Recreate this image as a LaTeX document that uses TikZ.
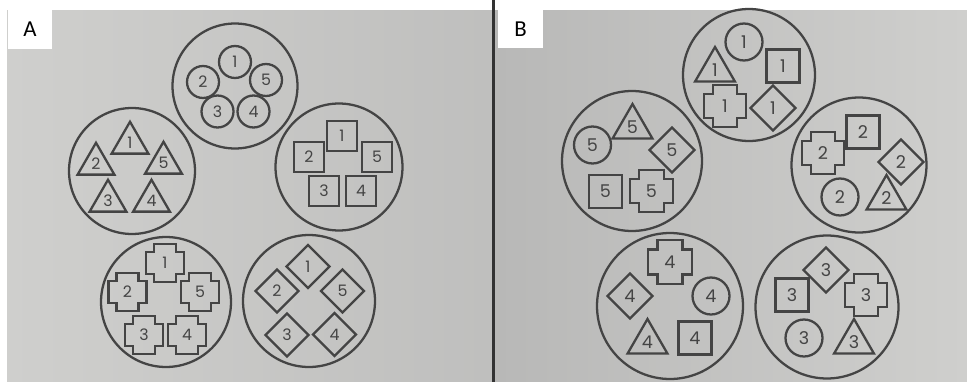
\documentclass[tikz,border=0pt]{standalone}
\usepackage{fontspec}
\usepackage{tikz}
\usetikzlibrary{shapes.geometric}
\newfontfamily\digitfont{Poppins}
\newfontfamily\panelfont{Carlito}
\definecolor{ink}{HTML}{444444}
\definecolor{paper}{HTML}{CFCFCD}
\definecolor{paperdark}{HTML}{B8B8B7}

% stepped cross drawn round a named node
\newcommand{\crossline}[2]{%
  \draw[shp,shift={(#1)},scale=#2] (-11,-19) -- ++(22,0) -- ++(0,8) -- ++(8,0)
    -- ++(0,22) -- ++(-8,0) -- ++(0,8) -- ++(-22,0) -- ++(0,-8) -- ++(-8,0)
    -- ++(0,-22) -- ++(8,0) -- cycle;}

\begin{document}
\begin{tikzpicture}[x=0.02cm,y=-0.02cm,
  shp/.style={draw=ink,line width=1.3pt},
  ring/.style={shp,circle,inner sep=0pt},
  num/.style={inner sep=0pt,text=ink,font=\digitfont\fontsize{9}{9}\selectfont},
  numb/.style={inner sep=0pt,text=ink,font=\digitfont\fontsize{10}{10}\selectfont},
  dotA/.style={num,shp,circle,minimum size=0.64cm},
  triA/.style={num,shp,regular polygon,regular polygon sides=3,minimum size=0.85cm},
  sqA/.style={num,shp,rectangle,minimum size=0.6cm},
  diaA/.style={num,shp,diamond,aspect=1,minimum size=0.88cm},
  dotB/.style={numb,shp,circle,minimum size=0.74cm},
  triB/.style={numb,shp,regular polygon,regular polygon sides=3,minimum size=0.92cm},
  sqB/.style={numb,shp,rectangle,minimum size=0.66cm},
  diaB/.style={numb,shp,diamond,aspect=1,minimum size=0.92cm},
  tag/.style={fill=white,inner sep=0pt,minimum width=0.9cm,minimum height=0.78cm,
              font=\panelfont\fontsize{13}{13}\selectfont}
]
  \useasboundingbox (0,0) rectangle (967,382);
  \fill[white] (0,0) rectangle (967,382);
  \shade[left color=paper,right color=paperdark!70!paper] (7,10) rectangle (492,382);
  \shade[left color=paperdark,right color=paper] (495,10) rectangle (967,382);
  \fill[black!80] (492,0) rectangle (495,382);

  \node[tag] (labA) at (30,29.5) {A};
  \node[tag] (labB) at (520.5,29) {B};

  % panel A
  \node[ring,minimum size=2.5cm]  (ringA1) at (235,86)  {};
  \node[ring,minimum size=2.52cm] (ringA2) at (132,171) {};
  \node[ring,minimum size=2.54cm] (ringA3) at (339,167) {};
  \node[ring,minimum size=2.6cm]  (ringA4) at (166,302) {};
  \node[ring,minimum size=2.64cm] (ringA5) at (309,301) {};

  \node[dotA] (cA1) at (235,62)    {1};
  \node[dotA] (cA2) at (203,82)    {2};
  \node[dotA] (cA5) at (266,80)    {5};
  \node[dotA] (cA3) at (217.5,111.5) {3};
  \node[dotA] (cA4) at (253.5,111.5) {4};

  \node[triA] (tA1) at (130,143)   {1};
  \node[triA] (tA2) at (96,164)    {2};
  \node[triA] (tA5) at (163.5,163) {5};
  \node[triA] (tA3) at (108,201)   {3};
  \node[triA] (tA4) at (151.5,201) {4};

  \node[sqA] (sA1) at (342,136) {1};
  \node[sqA] (sA2) at (309,157) {2};
  \node[sqA] (sA5) at (377,157) {5};
  \node[sqA] (sA3) at (324,191) {3};
  \node[sqA] (sA4) at (361,191) {4};

  \node[num] (xA1) at (165,263)   {1};
  \node[num] (xA2) at (127.5,292) {2};
  \node[num] (xA5) at (200,292)   {5};
  \node[num] (xA3) at (144,335)   {3};
  \node[num] (xA4) at (187,335)   {4};
  \crossline{xA1}{1}
  \crossline{xA2}{1}
  \crossline{xA5}{1}
  \crossline{xA3}{1}
  \crossline{xA4}{1}

  \node[diaA] (dA1) at (308,266.5)   {1};
  \node[diaA] (dA2) at (277,291)     {2};
  \node[diaA] (dA5) at (342.5,291)   {5};
  \node[diaA] (dA3) at (287,335)     {3};
  \node[diaA] (dA4) at (334.5,334.5) {4};

  % panel B
  \node[ring,minimum size=2.64cm] (ringB1) at (749,75)  {};
  \node[ring,minimum size=2.8cm]  (ringB5) at (632,161) {};
  \node[ring,minimum size=2.7cm]  (ringB2) at (859,165) {};
  \node[ring,minimum size=2.92cm] (ringB4) at (670,306) {};
  \node[ring,minimum size=2.86cm] (ringB3) at (827,307) {};

  \node[dotB] (cB1) at (744,42)  {1};
  \node[triB] (tB1) at (715,70)  {1};
  \node[sqB]  (sB1) at (783,66)  {1};
  \node[numb] (xB1) at (725,106) {1};
  \crossline{xB1}{1.12}
  \node[diaB] (dB1) at (773,108) {1};

  \node[dotB] (cB5) at (592.5,145) {5};
  \node[triB] (tB5) at (632.5,127) {5};
  \node[diaB] (dB5) at (672,150)   {5};
  \node[sqB]  (sB5) at (605.5,191.5) {5};
  \node[numb] (xB5) at (651.5,191) {5};
  \crossline{xB5}{1.12}

  \node[numb] (xB2) at (823,153) {2};
  \crossline{xB2}{1.1}
  \node[sqB]  (sB2) at (863,132) {2};
  \node[diaB] (dB2) at (901,162) {2};
  \node[dotB] (cB2) at (840,197) {2};
  \node[triB] (tB2) at (886.5,198) {2};

  \node[numb] (xB4) at (670,262) {4};
  \crossline{xB4}{1.14}
  \node[diaB] (dB4) at (630,296) {4};
  \node[dotB] (cB4) at (711,296) {4};
  \node[triB] (tB4) at (647.5,342) {4};
  \node[sqB]  (sB4) at (695,338) {4};

  \node[diaB] (dB3) at (826,270) {3};
  \node[sqB]  (sB3) at (792,295) {3};
  \node[numb] (xB3) at (866,295) {3};
  \crossline{xB3}{1.12}
  \node[dotB] (cB3) at (804,338) {3};
  \node[triB] (tB3) at (854,342) {3};
\end{tikzpicture}
\end{document}
